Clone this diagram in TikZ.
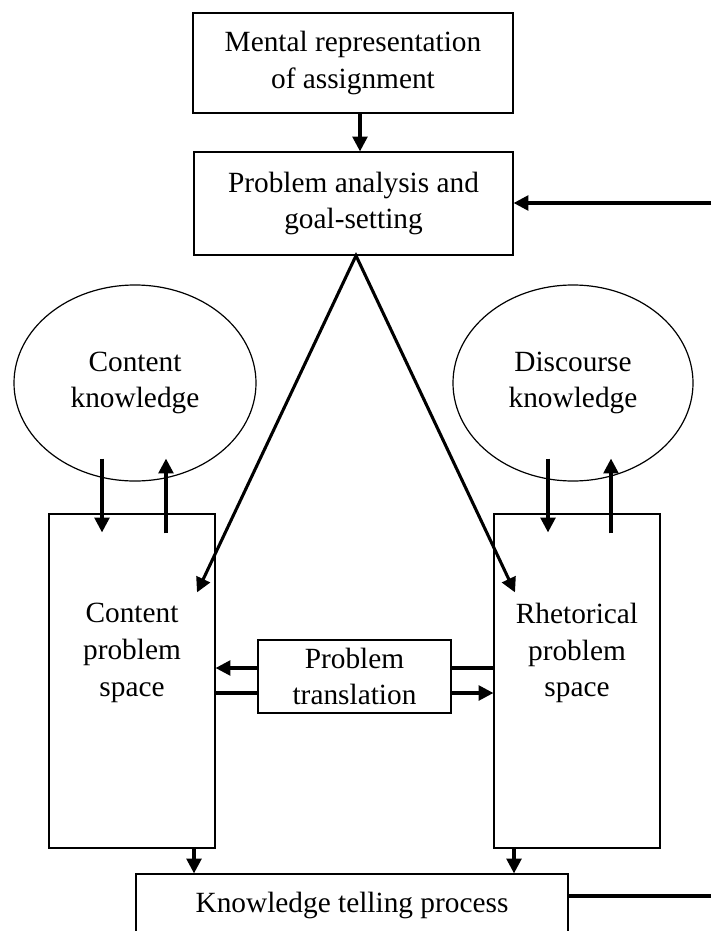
\documentclass[tikz,border=0pt]{standalone}
\usepackage{fontspec}
\setmainfont{Liberation Serif}
\usetikzlibrary{arrows.meta,shapes.geometric,calc}

\begin{document}
\begin{tikzpicture}[x=0.75pt,y=-0.75pt,
  every node/.style={font=\fontsize{22}{27.5}\selectfont, align=center, inner sep=0pt},
  box/.style={draw, line width=0.9pt, rectangle},
  bubble/.style={draw, line width=0.9pt, ellipse},
  tip/.style={Triangle[length=11pt,width=11pt]},
  arr/.style={line width=2.3pt, -{Triangle[length=11pt,width=11pt]}},
  link/.style={line width=2.3pt}
]
\useasboundingbox (0,0) rectangle (711,931);
\clip (0,0) rectangle (711,931);

% boxes and knowledge stores
\node[box, minimum width=240pt, minimum height=75pt] (mental) at (353,63)
  {Mental representation\\of assignment};
\node[box, minimum width=239.25pt, minimum height=77.25pt] (analysis) at (353.5,203.5)
  {Problem analysis and\\goal-setting};
\node[bubble, minimum width=181.5pt, minimum height=147pt] (cknow) at (135,383)
  {Content\\knowledge};
\node[bubble, minimum width=180pt, minimum height=147pt] (dknow) at (573,383)
  {Discourse\\knowledge};
\node[box, minimum width=124.5pt, minimum height=250.5pt] (cspace) at (132,681) {};
\node (clabel) at (132,653) {Content\\problem\\space};
\node[box, minimum width=124.5pt, minimum height=250.5pt] (rspace) at (577,681) {};
\node (rlabel) at (577,653) {Rhetorical\\problem\\space};
\node[box, minimum width=144.75pt, minimum height=54.75pt] (trans) at (354.5,676.5)
  {Problem\\translation};
\node[box, minimum width=324pt, minimum height=46.5pt] (telling) at (352,905)
  {Knowledge telling process};

% loose ends running off to the right
\coordinate (fbtop) at (711,203);
\coordinate (fbbot) at (711,896);

% top chain
\draw[arr] ($(mental.south)+(7,0)$) -- ($(analysis.north)+(6.5,0)$);
\draw[arr] (fbtop) -- (fbtop -| analysis.east);

% goal-setting fans out to both problem spaces
\coordinate (apex) at ($(analysis.south)+(2.5,0)$);
\coordinate (ctip) at ($(cspace.north)+(65,79)$);
\coordinate (rtip) at ($(rspace.north)+(-62,79)$);
\draw[link, line join=miter, {Triangle[length=11pt,width=11pt]}-{Triangle[length=11pt,width=11pt]}]
  (ctip) -- (apex) -- (rtip);

% knowledge exchange
\draw[arr] ($(cknow.south)+(-33,-23)$) -- ($(cspace.north)+(-30,19)$);
\draw[arr] ($(cspace.north)+(34,20)$) -- ($(cknow.south)+(31,-23)$);
\draw[arr] ($(dknow.south)+(-25,-23)$) -- ($(rspace.north)+(-29,19)$);
\draw[arr] ($(rspace.north)+(34,20)$) -- ($(dknow.south)+(38,-23)$);

% problem translation
\draw[arr] ($(trans.west)+(0,-8.5)$) -- ($(cspace.east)+(0,-13)$);
\draw[link] ($(cspace.east)+(0,12)$) -- ($(trans.west)+(0,16.5)$);
\draw[link] ($(trans.east)+(0,-8.5)$) -- ($(rspace.west)+(0,-13)$);
\draw[arr] ($(trans.east)+(0,16.5)$) -- ($(rspace.west)+(0,12)$);

% into knowledge telling
\draw[arr] ($(cspace.south)+(62,0)$) -- ($(telling.north)+(-158,0)$);
\draw[arr] ($(rspace.south)+(-63,0)$) -- ($(telling.north)+(162,0)$);
\draw[link] ($(telling.east)+(0,-9)$) -- (fbbot);
\end{tikzpicture}
\end{document}
